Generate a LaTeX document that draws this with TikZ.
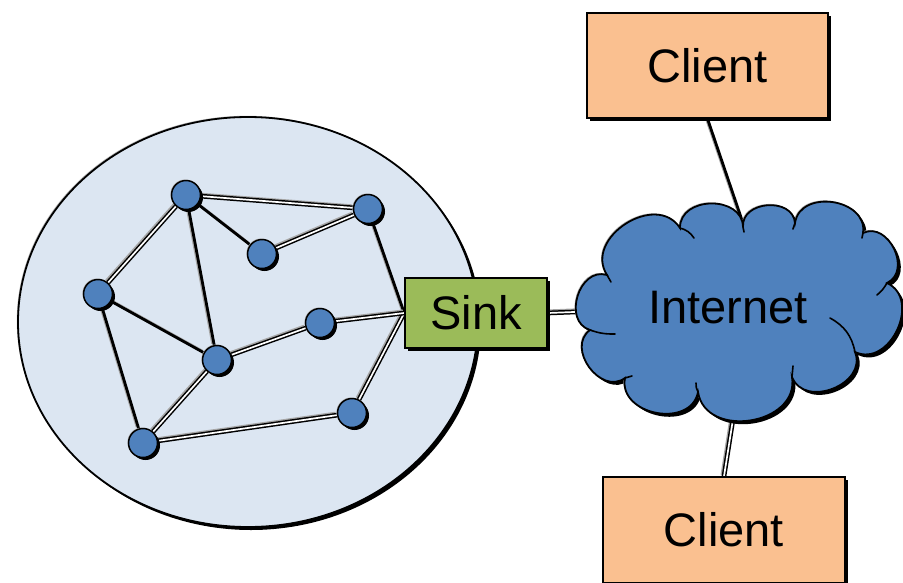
\documentclass[tikz,border=0pt]{standalone}
\usepackage{fontspec}
\setmainfont{Liberation Sans}
\usetikzlibrary{shapes.geometric,shadows}
\pgfdeclarelayer{back}
\pgfdeclarelayer{links}
\pgfsetlayers{back,links,main}
\definecolor{fieldfill}{RGB}{220,230,242}
\definecolor{moteblue}{RGB}{79,129,189}
\definecolor{sinkgreen}{RGB}{155,187,89}
\definecolor{clientfill}{RGB}{250,192,144}
\tikzset{
  shade3/.style={drop shadow={shadow xshift=3pt, shadow yshift=-3pt, fill=black, opacity=1},
                 general shadow={shadow xshift=-1.2pt, shadow yshift=1.2pt, fill=gray!60, opacity=1}},
  mote/.style={circle, fill=moteblue, draw=black, line width=1.5pt, minimum size=29pt, inner sep=0pt,
               drop shadow={shadow xshift=2.5pt, shadow yshift=-2.5pt, fill=black, opacity=1},
               general shadow={shadow xshift=-1pt, shadow yshift=1pt, fill=gray!60, opacity=1}},
  box/.style={rectangle, draw=black, line width=1.5pt, inner sep=0pt, shade3,
              font=\fontsize{47}{56}\selectfont},
  wire/.style={draw=black, line width=2.8pt,
               preaction={draw=gray!70, line width=3pt, transform canvas={shift={(-1.4,-1.4)}}}},
  radio/.style={draw=black, line width=1.5pt, double=white, double distance=1.7pt,
                preaction={draw=gray!70, line width=4.6pt, transform canvas={shift={(-1.2,-1.2)}}}},
  puff/.style={bend left=90, looseness=1.3},
}
% outline of the internet cloud, traced clockwise from valley to valley
\newcommand\cloudoutline{
  (607,275) to[puff] (680,228) to[puff] (743,227) to[puff] (795,223) to[puff] (863,233)
  to[puff] (887,283) to[puff] (855,352) to[puff] (792,377) to[puff] (698,392)
  to[puff] (625,378) to[puff] (590,330) to[puff] cycle}
\begin{document}
\begin{tikzpicture}[x=1pt,y=-1pt]
\useasboundingbox (0,0) rectangle (903,582);
\clip (0,0) rectangle (903,582);

% sensor field
\begin{pgfonlayer}{back}
\node[ellipse, fill=fieldfill, draw=black, line width=1.8pt, minimum width=460pt, minimum height=410pt,
      inner sep=0pt, shade3] (field) at (248,322) {};
\end{pgfonlayer}

% motes
\node[mote] (a) at (186,195) {};
\node[mote] (b) at (368,209) {};
\node[mote] (c) at (262,254) {};
\node[mote] (d) at (98,294) {};
\node[mote] (e) at (320,323) {};
\node[mote] (f) at (217,360) {};
\node[mote] (g) at (352,413) {};
\node[mote] (h) at (143,443) {};

% sink and clients
\node[box, fill=sinkgreen, minimum width=142pt, minimum height=70pt] (sink) at (476,313) {Sink};
\node[box, fill=clientfill, minimum width=241pt, minimum height=105pt] (c1) at (707.5,65.5) {Client};
\node[box, fill=clientfill, minimum width=242pt, minimum height=106pt] (c2) at (724,530) {Client};

% the internet cloud: shadows, body, inner puff strokes
\fill[black, transform canvas={shift={(3,3)}}] \cloudoutline;
\fill[gray!60, transform canvas={shift={(-1.2,-1.2)}}] \cloudoutline;
\filldraw[fill=moteblue, draw=black, line width=1.8pt] \cloudoutline;
\begin{scope}[draw=black, line width=1.6pt, line cap=round]
  \draw (680,228) to[bend left=20] (694,238);
  \draw (590,330) to[bend right=10] (615,334);
  \draw (625,378) -- (632,376);
  \draw (698,392) to[bend left=15] (696,383);
  \draw (792,377) -- (793,366);
  \draw (855,352) to[bend right=25] (830,318);
  \draw (887,283) to[bend left=10] (877,295);
  \draw (863,233) -- (862,238);
  \draw (795,223) -- (793,229);
  \draw (743,227) -- (744,232);
  \draw (607,275) -- (611,282);
\end{scope}
\node[font=\fontsize{47}{56}\selectfont] (inet) at (728,308) {Internet};
\coordinate (inetW) at (600,311);
\coordinate (inetN) at (746,232);
\coordinate (inetS) at (736,400);

\begin{pgfonlayer}{links}
\draw[wire] (a) -- (c);
\draw[wire] (a) -- (f);
\draw[wire] (d) -- (f);
\draw[wire] (d) -- (h);
\draw[wire] (b) -- (sink.west);
\draw[radio] (a) -- (b);
\draw[radio] (a) -- (d);
\draw[radio] (c) -- (b);
\draw[radio] (f) -- (e);
\draw[radio] (f) -- (h);
\draw[radio] (h) -- (g);
\draw[radio] (g) -- (sink.west);
\draw[radio] (e) -- (sink.west);
\draw[radio] (sink.east) -- (inetW);
\draw[wire] (c1.south) -- (inetN);
\draw[radio] (inetS) -- (c2.north);
\end{pgfonlayer}
\end{tikzpicture}
\end{document}
